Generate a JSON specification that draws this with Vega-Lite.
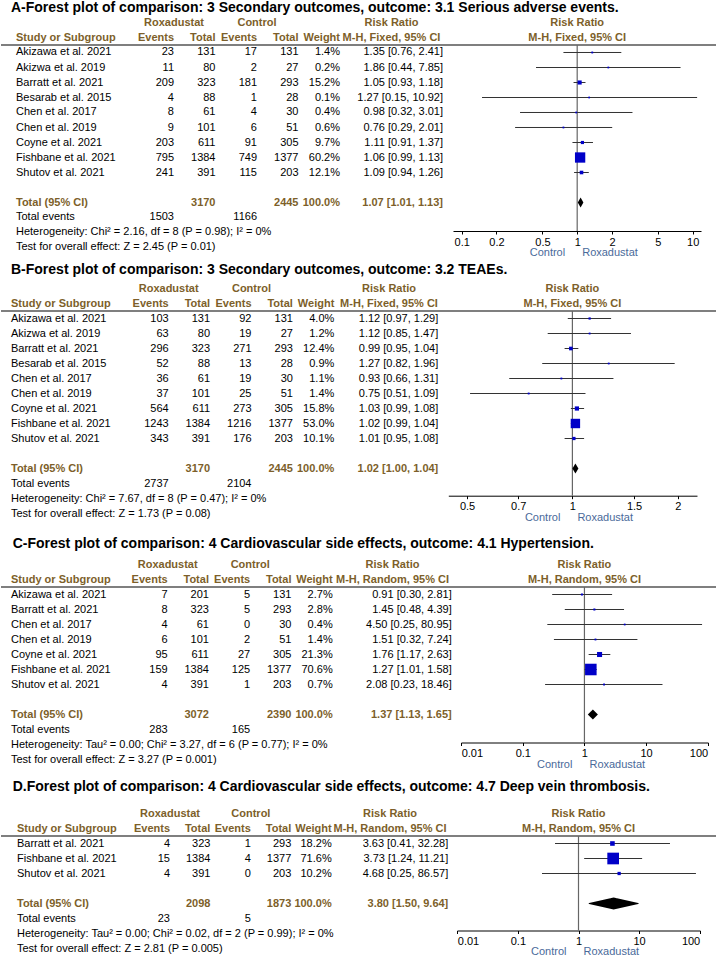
{
"$schema": "https://vega.github.io/schema/vega-lite/v6.json",
"padding": 0,
"autosize": {"type": "pad"},
"background": "white",
"columns": 5,
"align": "each",
"bounds": "flush",
"spacing": 0,
"config": {
  "view": {"stroke": null},
  "text": {"font": "Liberation Sans", "fontSize": 11, "color": "black"},
  "axisX": {"grid": false, "tickSize": 3, "labelFontSize": 11, "labelFont": "Liberation Sans", "labelColor": "black", "domainColor": "black", "tickColor": "black", "labelPadding": 2, "format": "~g", "labelOverlap": false, "title": null}
},
"datasets": {
"A": [
{"row":"title","kind":"title","label":"A-Forest plot of comparison: 3 Secondary outcomes, outcome: 3.1 Serious adverse events."},
{"row":"Akizawa et al. 2021","kind":"study","label":"Akizawa et al. 2021","e1":23,"t1":131,"e2":17,"t2":131,"w":0.014,"rr":1.35,"lo":0.76,"hi":2.41,"ci":"1.35 [0.76, 2.41]"},
{"row":"Akizwa et al. 2019","kind":"study","label":"Akizwa et al. 2019","e1":11,"t1":80,"e2":2,"t2":27,"w":0.002,"rr":1.86,"lo":0.44,"hi":7.85,"ci":"1.86 [0.44, 7.85]"},
{"row":"Barratt et al. 2021","kind":"study","label":"Barratt et al. 2021","e1":209,"t1":323,"e2":181,"t2":293,"w":0.152,"rr":1.05,"lo":0.93,"hi":1.18,"ci":"1.05 [0.93, 1.18]"},
{"row":"Besarab et al. 2015","kind":"study","label":"Besarab et al. 2015","e1":4,"t1":88,"e2":1,"t2":28,"w":0.001,"rr":1.27,"lo":0.15,"hi":10.92,"ci":"1.27 [0.15, 10.92]"},
{"row":"Chen et al. 2017","kind":"study","label":"Chen et al. 2017","e1":8,"t1":61,"e2":4,"t2":30,"w":0.004,"rr":0.98,"lo":0.32,"hi":3.01,"ci":"0.98 [0.32, 3.01]"},
{"row":"Chen et al. 2019","kind":"study","label":"Chen et al. 2019","e1":9,"t1":101,"e2":6,"t2":51,"w":0.006,"rr":0.76,"lo":0.29,"hi":2.01,"ci":"0.76 [0.29, 2.01]"},
{"row":"Coyne et al. 2021","kind":"study","label":"Coyne et al. 2021","e1":203,"t1":611,"e2":91,"t2":305,"w":0.097,"rr":1.11,"lo":0.91,"hi":1.37,"ci":"1.11 [0.91, 1.37]"},
{"row":"Fishbane et al. 2021","kind":"study","label":"Fishbane et al. 2021","e1":795,"t1":1384,"e2":749,"t2":1377,"w":0.602,"rr":1.06,"lo":0.99,"hi":1.13,"ci":"1.06 [0.99, 1.13]"},
{"row":"Shutov et al. 2021","kind":"study","label":"Shutov et al. 2021","e1":241,"t1":391,"e2":115,"t2":203,"w":0.121,"rr":1.09,"lo":0.94,"hi":1.26,"ci":"1.09 [0.94, 1.26]"},
{"row":"Total (95% CI)","kind":"total","label":"Total (95% CI)","t1":3170,"t2":2445,"w":1,"rr":1.07,"lo":1.01,"hi":1.13,"ci":"1.07 [1.01, 1.13]"},
{"row":"Total events","kind":"events","label":"Total events","e1":1503,"e2":1166},
{"row":"het","kind":"note","label":"Heterogeneity: Chi² = 2.16, df = 8 (P = 0.98); I² = 0%"},
{"row":"test","kind":"note","label":"Test for overall effect: Z = 2.45 (P = 0.01)"}
],
"B": [
{"row":"title","kind":"title","label":"B-Forest plot of comparison: 3 Secondary outcomes, outcome: 3.2 TEAEs."},
{"row":"Akizawa et al. 2021","kind":"study","label":"Akizawa et al. 2021","e1":103,"t1":131,"e2":92,"t2":131,"w":0.04,"rr":1.12,"lo":0.97,"hi":1.29,"ci":"1.12 [0.97, 1.29]"},
{"row":"Akizwa et al. 2019","kind":"study","label":"Akizwa et al. 2019","e1":63,"t1":80,"e2":19,"t2":27,"w":0.012,"rr":1.12,"lo":0.85,"hi":1.47,"ci":"1.12 [0.85, 1.47]"},
{"row":"Barratt et al. 2021","kind":"study","label":"Barratt et al. 2021","e1":296,"t1":323,"e2":271,"t2":293,"w":0.124,"rr":0.99,"lo":0.95,"hi":1.04,"ci":"0.99 [0.95, 1.04]"},
{"row":"Besarab et al. 2015","kind":"study","label":"Besarab et al. 2015","e1":52,"t1":88,"e2":13,"t2":28,"w":0.009,"rr":1.27,"lo":0.82,"hi":1.96,"ci":"1.27 [0.82, 1.96]"},
{"row":"Chen et al. 2017","kind":"study","label":"Chen et al. 2017","e1":36,"t1":61,"e2":19,"t2":30,"w":0.011,"rr":0.93,"lo":0.66,"hi":1.31,"ci":"0.93 [0.66, 1.31]"},
{"row":"Chen et al. 2019","kind":"study","label":"Chen et al. 2019","e1":37,"t1":101,"e2":25,"t2":51,"w":0.014,"rr":0.75,"lo":0.51,"hi":1.09,"ci":"0.75 [0.51, 1.09]"},
{"row":"Coyne et al. 2021","kind":"study","label":"Coyne et al. 2021","e1":564,"t1":611,"e2":273,"t2":305,"w":0.158,"rr":1.03,"lo":0.99,"hi":1.08,"ci":"1.03 [0.99, 1.08]"},
{"row":"Fishbane et al. 2021","kind":"study","label":"Fishbane et al. 2021","e1":1243,"t1":1384,"e2":1216,"t2":1377,"w":0.53,"rr":1.02,"lo":0.99,"hi":1.04,"ci":"1.02 [0.99, 1.04]"},
{"row":"Shutov et al. 2021","kind":"study","label":"Shutov et al. 2021","e1":343,"t1":391,"e2":176,"t2":203,"w":0.101,"rr":1.01,"lo":0.95,"hi":1.08,"ci":"1.01 [0.95, 1.08]"},
{"row":"Total (95% CI)","kind":"total","label":"Total (95% CI)","t1":3170,"t2":2445,"w":1,"rr":1.02,"lo":1.0,"hi":1.04,"ci":"1.02 [1.00, 1.04]"},
{"row":"Total events","kind":"events","label":"Total events","e1":2737,"e2":2104},
{"row":"het","kind":"note","label":"Heterogeneity: Chi² = 7.67, df = 8 (P = 0.47); I² = 0%"},
{"row":"test","kind":"note","label":"Test for overall effect: Z = 1.73 (P = 0.08)"}
],
"C": [
{"row":"title","kind":"title","label":"C-Forest plot of comparison: 4 Cardiovascular side effects, outcome: 4.1 Hypertension."},
{"row":"Akizawa et al. 2021","kind":"study","label":"Akizawa et al. 2021","e1":7,"t1":201,"e2":5,"t2":131,"w":0.027,"rr":0.91,"lo":0.30,"hi":2.81,"ci":"0.91 [0.30, 2.81]"},
{"row":"Barratt et al. 2021","kind":"study","label":"Barratt et al. 2021","e1":8,"t1":323,"e2":5,"t2":293,"w":0.028,"rr":1.45,"lo":0.48,"hi":4.39,"ci":"1.45 [0.48, 4.39]"},
{"row":"Chen et al. 2017","kind":"study","label":"Chen et al. 2017","e1":4,"t1":61,"e2":0,"t2":30,"w":0.004,"rr":4.50,"lo":0.25,"hi":80.95,"ci":"4.50 [0.25, 80.95]"},
{"row":"Chen et al. 2019","kind":"study","label":"Chen et al. 2019","e1":6,"t1":101,"e2":2,"t2":51,"w":0.014,"rr":1.51,"lo":0.32,"hi":7.24,"ci":"1.51 [0.32, 7.24]"},
{"row":"Coyne et al. 2021","kind":"study","label":"Coyne et al. 2021","e1":95,"t1":611,"e2":27,"t2":305,"w":0.213,"rr":1.76,"lo":1.17,"hi":2.63,"ci":"1.76 [1.17, 2.63]"},
{"row":"Fishbane et al. 2021","kind":"study","label":"Fishbane et al. 2021","e1":159,"t1":1384,"e2":125,"t2":1377,"w":0.706,"rr":1.27,"lo":1.01,"hi":1.58,"ci":"1.27 [1.01, 1.58]"},
{"row":"Shutov et al. 2021","kind":"study","label":"Shutov et al. 2021","e1":4,"t1":391,"e2":1,"t2":203,"w":0.007,"rr":2.08,"lo":0.23,"hi":18.46,"ci":"2.08 [0.23, 18.46]"},
{"row":"Total (95% CI)","kind":"total","label":"Total (95% CI)","t1":3072,"t2":2390,"w":1,"rr":1.37,"lo":1.13,"hi":1.65,"ci":"1.37 [1.13, 1.65]"},
{"row":"Total events","kind":"events","label":"Total events","e1":283,"e2":165},
{"row":"het","kind":"note","label":"Heterogeneity: Tau² = 0.00; Chi² = 3.27, df = 6 (P = 0.77); I² = 0%"},
{"row":"test","kind":"note","label":"Test for overall effect: Z = 3.27 (P = 0.001)"}
],
"D": [
{"row":"title","kind":"title","label":"D.Forest plot of comparison: 4 Cardiovascular side effects, outcome: 4.7 Deep vein thrombosis."},
{"row":"Barratt et al. 2021","kind":"study","label":"Barratt et al. 2021","e1":4,"t1":323,"e2":1,"t2":293,"w":0.182,"rr":3.63,"lo":0.41,"hi":32.28,"ci":"3.63 [0.41, 32.28]"},
{"row":"Fishbane et al. 2021","kind":"study","label":"Fishbane et al. 2021","e1":15,"t1":1384,"e2":4,"t2":1377,"w":0.716,"rr":3.73,"lo":1.24,"hi":11.21,"ci":"3.73 [1.24, 11.21]"},
{"row":"Shutov et al. 2021","kind":"study","label":"Shutov et al. 2021","e1":4,"t1":391,"e2":0,"t2":203,"w":0.102,"rr":4.68,"lo":0.25,"hi":86.57,"ci":"4.68 [0.25, 86.57]"},
{"row":"Total (95% CI)","kind":"total","label":"Total (95% CI)","t1":2098,"t2":1873,"w":1,"rr":3.80,"lo":1.50,"hi":9.64,"ci":"3.80 [1.50, 9.64]"},
{"row":"Total events","kind":"events","label":"Total events","e1":23,"e2":5},
{"row":"het","kind":"note","label":"Heterogeneity: Tau² = 0.00; Chi² = 0.02, df = 2 (P = 0.99); I² = 0%"},
{"row":"test","kind":"note","label":"Test for overall effect: Z = 2.81 (P = 0.005)"}
]
},
"concat": [
 {"width": 165, "height": 266, "data": {"name": "A"},
  "encoding": {"y": {"field": "row", "type": "nominal", "axis": null, "scale": {"type": "band", "domain": ["title","h1","h2","Akizawa et al. 2021","Akizwa et al. 2019","Barratt et al. 2021","Besarab et al. 2015","Chen et al. 2017","Chen et al. 2019","Coyne et al. 2021","Fishbane et al. 2021","Shutov et al. 2021","blank","Total (95% CI)","Total events","het","test"], "paddingInner": 0, "paddingOuter": 0.366667, "align": 0, "round": false}}},
  "layer": [
   {"transform": [{"filter": "datum.kind == 'study' || datum.kind == 'events' || datum.kind == 'note'"}], "mark": {"type": "text", "align": "left", "baseline": "middle"}, "encoding": {"x": {"datum": "c", "type": "nominal", "axis": null, "scale": {"type": "point", "domain": ["c"], "padding": 0, "align": 0.0909}}, "text": {"field": "label"}}},
   {"transform": [{"filter": "datum.kind == 'total'"}], "mark": {"type": "text", "align": "left", "baseline": "middle", "fontWeight": "bold", "color": "#7d5f2a"}, "encoding": {"x": {"datum": "c", "type": "nominal", "axis": null}, "text": {"field": "label"}}},
   {"transform": [{"filter": "datum.kind == 'title'"}], "mark": {"type": "text", "align": "left", "baseline": "middle", "fontWeight": "bold", "fontSize": 14, "dx": -5, "dy": 0.5}, "encoding": {"x": {"datum": "c", "type": "nominal", "axis": null}, "text": {"field": "label"}}},
   {"data": {"values": [{"t": "Study or Subgroup"}]}, "mark": {"type": "text", "align": "left", "baseline": "middle", "fontWeight": "bold", "color": "#7d5f2a"}, "encoding": {"x": {"datum": "c", "type": "nominal", "axis": null}, "y": {"datum": "h2", "type": "nominal"}, "text": {"field": "t"}}},
   {"data": {"values": [{}]}, "mark": {"type": "rule", "color": "#555", "strokeWidth": 1.5}, "encoding": {"y": {"datum": "Akizawa et al. 2021", "type": "nominal", "bandPosition": 0}}}
  ]},
 {"width": 180, "height": 266, "data": {"name": "A"},
  "encoding": {"y": {"field": "row", "type": "nominal", "axis": null, "scale": {"type": "band", "domain": ["title","h1","h2","Akizawa et al. 2021","Akizwa et al. 2019","Barratt et al. 2021","Besarab et al. 2015","Chen et al. 2017","Chen et al. 2019","Coyne et al. 2021","Fishbane et al. 2021","Shutov et al. 2021","blank","Total (95% CI)","Total events","het","test"], "paddingInner": 0, "paddingOuter": 0.366667, "align": 0, "round": false}}},
  "layer": [
   {"transform": [{"filter": "datum.kind == 'study' || datum.kind == 'events'"}, {"fold": ["e1","t1","e2","t2"], "as": ["col","val"]}, {"filter": "isValid(datum.val)"}], "mark": {"type": "text", "align": "right", "baseline": "middle"}, "encoding": {"x": {"field": "col", "type": "nominal", "axis": null, "scale": {"type": "point", "domain": ["e1","t1","e2","t2","w"], "padding": 0.16867, "align": 0.5714}}, "text": {"field": "val", "type": "nominal"}}},
   {"transform": [{"filter": "datum.kind == 'total'"}, {"fold": ["e1","t1","e2","t2"], "as": ["col","val"]}, {"filter": "isValid(datum.val)"}], "mark": {"type": "text", "align": "right", "baseline": "middle", "fontWeight": "bold", "color": "#7d5f2a"}, "encoding": {"x": {"field": "col", "type": "nominal", "axis": null}, "text": {"field": "val", "type": "nominal"}}},
   {"transform": [{"filter": "datum.kind == 'study'"}], "mark": {"type": "text", "align": "right", "baseline": "middle"}, "encoding": {"x": {"datum": "w", "type": "nominal", "axis": null}, "text": {"field": "w", "type": "quantitative", "format": ".1%"}}},
   {"transform": [{"filter": "datum.kind == 'total'"}], "mark": {"type": "text", "align": "right", "baseline": "middle", "fontWeight": "bold", "color": "#7d5f2a"}, "encoding": {"x": {"datum": "w", "type": "nominal", "axis": null}, "text": {"field": "w", "type": "quantitative", "format": ".1%"}}},
   {"data": {"values": [{"t": "Roxadustat", "c": "e1"}, {"t": "Control", "c": "e2"}]}, "mark": {"type": "text", "align": "center", "baseline": "middle", "fontWeight": "bold", "color": "#7d5f2a"}, "encoding": {"x": {"field": "c", "type": "nominal", "axis": null}, "y": {"datum": "h1", "type": "nominal"}, "text": {"field": "t"}}},
   {"data": {"values": [{"t": "Events", "c": "e1"}, {"t": "Total", "c": "t1"}, {"t": "Events", "c": "e2"}, {"t": "Total", "c": "t2"}, {"t": "Weight", "c": "w"}]}, "mark": {"type": "text", "align": "right", "baseline": "middle", "fontWeight": "bold", "color": "#7d5f2a"}, "encoding": {"x": {"field": "c", "type": "nominal", "axis": null}, "y": {"datum": "h2", "type": "nominal"}, "text": {"field": "t"}}},
   {"data": {"values": [{}]}, "mark": {"type": "rule", "color": "#555", "strokeWidth": 1.5}, "encoding": {"y": {"datum": "Akizawa et al. 2021", "type": "nominal", "bandPosition": 0}}}
  ]},
 {"width": 107, "height": 266, "data": {"name": "A"},
  "encoding": {"y": {"field": "row", "type": "nominal", "axis": null, "scale": {"type": "band", "domain": ["title","h1","h2","Akizawa et al. 2021","Akizwa et al. 2019","Barratt et al. 2021","Besarab et al. 2015","Chen et al. 2017","Chen et al. 2019","Coyne et al. 2021","Fishbane et al. 2021","Shutov et al. 2021","blank","Total (95% CI)","Total events","het","test"], "paddingInner": 0, "paddingOuter": 0.366667, "align": 0, "round": false}}},
  "layer": [
   {"transform": [{"filter": "datum.kind == 'study'"}], "mark": {"type": "text", "align": "right", "baseline": "middle"}, "encoding": {"x": {"datum": "r", "type": "nominal", "axis": null, "scale": {"type": "point", "domain": ["mid","r"], "padding": 0.53883, "align": 0.81982}}, "text": {"field": "ci"}}},
   {"transform": [{"filter": "datum.kind == 'total'"}], "mark": {"type": "text", "align": "right", "baseline": "middle", "fontWeight": "bold", "color": "#7d5f2a"}, "encoding": {"x": {"datum": "r", "type": "nominal", "axis": null}, "text": {"field": "ci"}}},
   {"data": {"values": [{"t": "Risk Ratio", "r": "h1"}, {"t": "M-H, Fixed, 95% CI", "r": "h2"}]}, "mark": {"type": "text", "align": "center", "baseline": "middle", "fontWeight": "bold", "color": "#7d5f2a"}, "encoding": {"x": {"datum": "mid", "type": "nominal", "axis": null}, "y": {"field": "r", "type": "nominal"}, "text": {"field": "t"}}},
   {"data": {"values": [{}]}, "mark": {"type": "rule", "color": "#555", "strokeWidth": 1.5}, "encoding": {"y": {"datum": "Akizawa et al. 2021", "type": "nominal", "bandPosition": 0}}}
  ]},
 {"width": 258, "height": 266, "data": {"name": "A"},
  "encoding": {"y": {"field": "row", "type": "nominal", "axis": null, "scale": {"type": "band", "domain": ["title","h1","h2","Akizawa et al. 2021","Akizwa et al. 2019","Barratt et al. 2021","Besarab et al. 2015","Chen et al. 2017","Chen et al. 2019","Coyne et al. 2021","Fishbane et al. 2021","Shutov et al. 2021","blank","Total (95% CI)","Total events","het","test"], "paddingInner": 0, "paddingOuter": 0.366667, "align": 0, "round": false}}},
  "layer": [
   {"data": {"values": [{}]}, "mark": {"type": "rule", "color": "#555", "strokeWidth": 1.5}, "encoding": {"y": {"datum": "Akizawa et al. 2021", "type": "nominal", "bandPosition": 0}}},
   {"data": {"values": [{}]}, "mark": {"type": "rule", "color": "#666", "strokeWidth": 1.2, "y2Offset": -35}, "encoding": {"x": {"datum": 1, "type": "quantitative", "scale": {"type": "log", "domain": [0.0841, 11.8], "nice": false, "rangeMin": 0, "rangeMax": 248}}, "y": {"datum": "Akizawa et al. 2021", "type": "nominal", "bandPosition": 0}, "y2": {"value": "height"}}},
   {"data": {"values": [{"t": "Risk Ratio", "r": "h1"}, {"t": "M-H, Fixed, 95% CI", "r": "h2"}]}, "mark": {"type": "text", "align": "center", "baseline": "middle", "fontWeight": "bold", "color": "#7d5f2a"}, "encoding": {"x": {"datum": 1, "type": "quantitative"}, "y": {"field": "r", "type": "nominal"}, "text": {"field": "t"}}},
   {"transform": [{"filter": "datum.kind == 'study'"}], "mark": {"type": "rule", "color": "#333", "strokeWidth": 1}, "encoding": {"x": {"field": "lo", "type": "quantitative", "title": null, "scale": {"type": "log", "domain": [0.0841, 11.8], "nice": false, "rangeMin": 0, "rangeMax": 248}, "axis": {"values": [0.1, 0.2, 0.5, 1, 2, 5, 10], "offset": -35}}, "x2": {"field": "hi"}, "y": {"field": "row", "type": "nominal"}}},
   {"transform": [{"filter": "datum.kind == 'study'"}], "mark": {"type": "point", "shape": "square", "filled": true, "color": "#0000c8", "opacity": 1}, "encoding": {"x": {"field": "rr", "type": "quantitative", "title": null}, "y": {"field": "row", "type": "nominal"}, "size": {"field": "w", "type": "quantitative", "legend": null, "scale": {"type": "pow", "exponent": 1.46, "domain": [0, 1], "range": [3, 220]}}}},
   {"transform": [{"filter": "datum.kind == 'total'"}], "mark": {"type": "point", "shape": "M-0.56,0L0,-1L0.56,0L0,1Z", "filled": true, "color": "black", "opacity": 1, "size": 100}, "encoding": {"x": {"field": "rr", "type": "quantitative", "title": null}, "y": {"field": "row", "type": "nominal"}}},
   {"data": {"values": [{}]}, "mark": {"type": "text", "align": "right", "baseline": "middle", "dx": -12, "dy": -13, "color": "#4a6a9a"}, "encoding": {"x": {"datum": 1, "type": "quantitative"}, "y": {"value": "height"}, "text": {"value": "Control"}}},
   {"data": {"values": [{}]}, "mark": {"type": "text", "align": "left", "baseline": "middle", "dx": 5, "dy": -13, "color": "#4a6a9a"}, "encoding": {"x": {"datum": 1, "type": "quantitative"}, "y": {"value": "height"}, "text": {"value": "Roxadustat"}}}
  ]},
 {"width": 6, "height": 266, "data": {"values": [{}]}, "mark": {"type": "rule", "color": "#555", "strokeWidth": 1.5}, "encoding": {"y": {"datum": "Akizawa et al. 2021", "type": "nominal", "bandPosition": 0, "axis": null, "scale": {"type": "band", "domain": ["title","h1","h2","Akizawa et al. 2021","Akizwa et al. 2019","Barratt et al. 2021","Besarab et al. 2015","Chen et al. 2017","Chen et al. 2019","Coyne et al. 2021","Fishbane et al. 2021","Shutov et al. 2021","blank","Total (95% CI)","Total events","het","test"], "paddingInner": 0, "paddingOuter": 0.366667, "align": 0, "round": false}}}},

 {"width": 165, "height": 275.2, "data": {"name": "B"},
  "encoding": {"y": {"field": "row", "type": "nominal", "axis": null, "scale": {"type": "band", "domain": ["title","h1","h2","Akizawa et al. 2021","Akizwa et al. 2019","Barratt et al. 2021","Besarab et al. 2015","Chen et al. 2017","Chen et al. 2019","Coyne et al. 2021","Fishbane et al. 2021","Shutov et al. 2021","blank","Total (95% CI)","Total events","het","test"], "paddingInner": 0, "paddingOuter": 0.673333, "align": 0, "round": false}}},
  "layer": [
   {"transform": [{"filter": "datum.kind == 'study' || datum.kind == 'events' || datum.kind == 'note'"}], "mark": {"type": "text", "align": "left", "baseline": "middle"}, "encoding": {"x": {"datum": "c", "type": "nominal", "axis": null, "scale": {"type": "point", "domain": ["c"], "padding": 0, "align": 0.0606}}, "text": {"field": "label"}}},
   {"transform": [{"filter": "datum.kind == 'total'"}], "mark": {"type": "text", "align": "left", "baseline": "middle", "fontWeight": "bold", "color": "#7d5f2a"}, "encoding": {"x": {"datum": "c", "type": "nominal", "axis": null}, "text": {"field": "label"}}},
   {"transform": [{"filter": "datum.kind == 'title'"}], "mark": {"type": "text", "align": "left", "baseline": "middle", "fontWeight": "bold", "fontSize": 14, "dx": 0, "dy": -3.5}, "encoding": {"x": {"datum": "c", "type": "nominal", "axis": null}, "text": {"field": "label"}}},
   {"data": {"values": [{"t": "Study or Subgroup"}]}, "mark": {"type": "text", "align": "left", "baseline": "middle", "fontWeight": "bold", "color": "#7d5f2a"}, "encoding": {"x": {"datum": "c", "type": "nominal", "axis": null}, "y": {"datum": "h2", "type": "nominal"}, "text": {"field": "t"}}},
   {"data": {"values": [{}]}, "mark": {"type": "rule", "color": "#555", "strokeWidth": 1.5}, "encoding": {"y": {"datum": "Akizawa et al. 2021", "type": "nominal", "bandPosition": 0}}}
  ]},
 {"width": 180, "height": 275.2, "data": {"name": "B"},
  "encoding": {"y": {"field": "row", "type": "nominal", "axis": null, "scale": {"type": "band", "domain": ["title","h1","h2","Akizawa et al. 2021","Akizwa et al. 2019","Barratt et al. 2021","Besarab et al. 2015","Chen et al. 2017","Chen et al. 2019","Coyne et al. 2021","Fishbane et al. 2021","Shutov et al. 2021","blank","Total (95% CI)","Total events","het","test"], "paddingInner": 0, "paddingOuter": 0.673333, "align": 0, "round": false}}},
  "layer": [
   {"transform": [{"filter": "datum.kind == 'study' || datum.kind == 'events'"}, {"fold": ["e1","t1","e2","t2"], "as": ["col","val"]}, {"filter": "isValid(datum.val)"}], "mark": {"type": "text", "align": "right", "baseline": "middle"}, "encoding": {"x": {"field": "col", "type": "nominal", "axis": null, "scale": {"type": "point", "domain": ["e1","t1","e2","t2","w"], "padding": 0.1739, "align": 0.1875}}, "text": {"field": "val", "type": "nominal"}}},
   {"transform": [{"filter": "datum.kind == 'total'"}, {"fold": ["e1","t1","e2","t2"], "as": ["col","val"]}, {"filter": "isValid(datum.val)"}], "mark": {"type": "text", "align": "right", "baseline": "middle", "fontWeight": "bold", "color": "#7d5f2a"}, "encoding": {"x": {"field": "col", "type": "nominal", "axis": null}, "text": {"field": "val", "type": "nominal"}}},
   {"transform": [{"filter": "datum.kind == 'study'"}], "mark": {"type": "text", "align": "right", "baseline": "middle"}, "encoding": {"x": {"datum": "w", "type": "nominal", "axis": null}, "text": {"field": "w", "type": "quantitative", "format": ".1%"}}},
   {"transform": [{"filter": "datum.kind == 'total'"}], "mark": {"type": "text", "align": "right", "baseline": "middle", "fontWeight": "bold", "color": "#7d5f2a"}, "encoding": {"x": {"datum": "w", "type": "nominal", "axis": null}, "text": {"field": "w", "type": "quantitative", "format": ".1%"}}},
   {"data": {"values": [{"t": "Roxadustat", "c": "e1"}, {"t": "Control", "c": "e2"}]}, "mark": {"type": "text", "align": "center", "baseline": "middle", "fontWeight": "bold", "color": "#7d5f2a"}, "encoding": {"x": {"field": "c", "type": "nominal", "axis": null}, "y": {"datum": "h1", "type": "nominal"}, "text": {"field": "t"}}},
   {"data": {"values": [{"t": "Events", "c": "e1"}, {"t": "Total", "c": "t1"}, {"t": "Events", "c": "e2"}, {"t": "Total", "c": "t2"}, {"t": "Weight", "c": "w"}]}, "mark": {"type": "text", "align": "right", "baseline": "middle", "fontWeight": "bold", "color": "#7d5f2a"}, "encoding": {"x": {"field": "c", "type": "nominal", "axis": null}, "y": {"datum": "h2", "type": "nominal"}, "text": {"field": "t"}}},
   {"data": {"values": [{}]}, "mark": {"type": "rule", "color": "#555", "strokeWidth": 1.5}, "encoding": {"y": {"datum": "Akizawa et al. 2021", "type": "nominal", "bandPosition": 0}}}
  ]},
 {"width": 107, "height": 275.2, "data": {"name": "B"},
  "encoding": {"y": {"field": "row", "type": "nominal", "axis": null, "scale": {"type": "band", "domain": ["title","h1","h2","Akizawa et al. 2021","Akizwa et al. 2019","Barratt et al. 2021","Besarab et al. 2015","Chen et al. 2017","Chen et al. 2019","Coyne et al. 2021","Fishbane et al. 2021","Shutov et al. 2021","blank","Total (95% CI)","Total events","het","test"], "paddingInner": 0, "paddingOuter": 0.673333, "align": 0, "round": false}}},
  "layer": [
   {"transform": [{"filter": "datum.kind == 'study'"}], "mark": {"type": "text", "align": "right", "baseline": "middle"}, "encoding": {"x": {"datum": "r", "type": "nominal", "axis": null, "scale": {"type": "point", "domain": ["mid","r"], "padding": 0.58519, "align": 0.74523}}, "text": {"field": "ci"}}},
   {"transform": [{"filter": "datum.kind == 'total'"}], "mark": {"type": "text", "align": "right", "baseline": "middle", "fontWeight": "bold", "color": "#7d5f2a"}, "encoding": {"x": {"datum": "r", "type": "nominal", "axis": null}, "text": {"field": "ci"}}},
   {"data": {"values": [{"t": "Risk Ratio", "r": "h1"}, {"t": "M-H, Fixed, 95% CI", "r": "h2"}]}, "mark": {"type": "text", "align": "center", "baseline": "middle", "fontWeight": "bold", "color": "#7d5f2a"}, "encoding": {"x": {"datum": "mid", "type": "nominal", "axis": null}, "y": {"field": "r", "type": "nominal"}, "text": {"field": "t"}}},
   {"data": {"values": [{}]}, "mark": {"type": "rule", "color": "#555", "strokeWidth": 1.5}, "encoding": {"y": {"datum": "Akizawa et al. 2021", "type": "nominal", "bandPosition": 0}}}
  ]},
 {"width": 258, "height": 275.2, "data": {"name": "B"},
  "encoding": {"y": {"field": "row", "type": "nominal", "axis": null, "scale": {"type": "band", "domain": ["title","h1","h2","Akizawa et al. 2021","Akizwa et al. 2019","Barratt et al. 2021","Besarab et al. 2015","Chen et al. 2017","Chen et al. 2019","Coyne et al. 2021","Fishbane et al. 2021","Shutov et al. 2021","blank","Total (95% CI)","Total events","het","test"], "paddingInner": 0, "paddingOuter": 0.673333, "align": 0, "round": false}}},
  "layer": [
   {"data": {"values": [{}]}, "mark": {"type": "rule", "color": "#555", "strokeWidth": 1.5}, "encoding": {"y": {"datum": "Akizawa et al. 2021", "type": "nominal", "bandPosition": 0}}},
   {"data": {"values": [{}]}, "mark": {"type": "rule", "color": "#666", "strokeWidth": 1.2, "y2Offset": -45.5}, "encoding": {"x": {"datum": 1, "type": "quantitative", "scale": {"type": "log", "domain": [0.442, 2.27], "nice": false, "rangeMin": -4.7, "rangeMax": 244}}, "y": {"datum": "Akizawa et al. 2021", "type": "nominal", "bandPosition": 0}, "y2": {"value": "height"}}},
   {"data": {"values": [{"t": "Risk Ratio", "r": "h1"}, {"t": "M-H, Fixed, 95% CI", "r": "h2"}]}, "mark": {"type": "text", "align": "center", "baseline": "middle", "fontWeight": "bold", "color": "#7d5f2a"}, "encoding": {"x": {"datum": 1, "type": "quantitative"}, "y": {"field": "r", "type": "nominal"}, "text": {"field": "t"}}},
   {"transform": [{"filter": "datum.kind == 'study'"}], "mark": {"type": "rule", "color": "#333", "strokeWidth": 1}, "encoding": {"x": {"field": "lo", "type": "quantitative", "title": null, "scale": {"type": "log", "domain": [0.442, 2.27], "nice": false, "rangeMin": -4.7, "rangeMax": 244}, "axis": {"values": [0.5, 0.7, 1, 1.5, 2], "offset": -45.5}}, "x2": {"field": "hi"}, "y": {"field": "row", "type": "nominal"}}},
   {"transform": [{"filter": "datum.kind == 'study'"}], "mark": {"type": "point", "shape": "square", "filled": true, "color": "#0000c8", "opacity": 1}, "encoding": {"x": {"field": "rr", "type": "quantitative", "title": null}, "y": {"field": "row", "type": "nominal"}, "size": {"field": "w", "type": "quantitative", "legend": null, "scale": {"type": "pow", "exponent": 1.46, "domain": [0, 1], "range": [3, 220]}}}},
   {"transform": [{"filter": "datum.kind == 'total'"}], "mark": {"type": "point", "shape": "M-0.6,0L0,-1L0.6,0L0,1Z", "filled": true, "color": "black", "opacity": 1, "size": 100}, "encoding": {"x": {"field": "rr", "type": "quantitative", "title": null}, "y": {"field": "row", "type": "nominal"}}},
   {"data": {"values": [{}]}, "mark": {"type": "text", "align": "right", "baseline": "middle", "dx": -12, "dy": -23.5, "color": "#4a6a9a"}, "encoding": {"x": {"datum": 1, "type": "quantitative"}, "y": {"value": "height"}, "text": {"value": "Control"}}},
   {"data": {"values": [{}]}, "mark": {"type": "text", "align": "left", "baseline": "middle", "dx": 5, "dy": -23.5, "color": "#4a6a9a"}, "encoding": {"x": {"datum": 1, "type": "quantitative"}, "y": {"value": "height"}, "text": {"value": "Roxadustat"}}}
  ]},
 {"width": 6, "height": 275.2, "data": {"values": [{}]}, "mark": {"type": "rule", "color": "#555", "strokeWidth": 1.5}, "encoding": {"y": {"datum": "Akizawa et al. 2021", "type": "nominal", "bandPosition": 0, "axis": null, "scale": {"type": "band", "domain": ["title","h1","h2","Akizawa et al. 2021","Akizwa et al. 2019","Barratt et al. 2021","Besarab et al. 2015","Chen et al. 2017","Chen et al. 2019","Coyne et al. 2021","Fishbane et al. 2021","Shutov et al. 2021","blank","Total (95% CI)","Total events","het","test"], "paddingInner": 0, "paddingOuter": 0.673333, "align": 0, "round": false}}}},

 {"width": 165, "height": 233.3, "data": {"name": "C"},
  "encoding": {"y": {"field": "row", "type": "nominal", "axis": null, "scale": {"type": "band", "domain": ["title","h1","h2","Akizawa et al. 2021","Barratt et al. 2021","Chen et al. 2017","Chen et al. 2019","Coyne et al. 2021","Fishbane et al. 2021","Shutov et al. 2021","blank","Total (95% CI)","Total events","het","test"], "paddingInner": 0, "paddingOuter": 0.276667, "align": 0, "round": false}}},
  "layer": [
   {"transform": [{"filter": "datum.kind == 'study' || datum.kind == 'events' || datum.kind == 'note'"}], "mark": {"type": "text", "align": "left", "baseline": "middle"}, "encoding": {"x": {"datum": "c", "type": "nominal", "axis": null, "scale": {"type": "point", "domain": ["c"], "padding": 0, "align": 0.0606}}, "text": {"field": "label"}}},
   {"transform": [{"filter": "datum.kind == 'total'"}], "mark": {"type": "text", "align": "left", "baseline": "middle", "fontWeight": "bold", "color": "#7d5f2a"}, "encoding": {"x": {"datum": "c", "type": "nominal", "axis": null}, "text": {"field": "label"}}},
   {"transform": [{"filter": "datum.kind == 'title'"}], "mark": {"type": "text", "align": "left", "baseline": "middle", "fontWeight": "bold", "fontSize": 14, "dx": 1.7, "dy": -5.4}, "encoding": {"x": {"datum": "c", "type": "nominal", "axis": null}, "text": {"field": "label"}}},
   {"data": {"values": [{"t": "Study or Subgroup"}]}, "mark": {"type": "text", "align": "left", "baseline": "middle", "fontWeight": "bold", "color": "#7d5f2a"}, "encoding": {"x": {"datum": "c", "type": "nominal", "axis": null}, "y": {"datum": "h2", "type": "nominal"}, "text": {"field": "t"}}},
   {"data": {"values": [{}]}, "mark": {"type": "rule", "color": "#555", "strokeWidth": 1.5}, "encoding": {"y": {"datum": "Akizawa et al. 2021", "type": "nominal", "bandPosition": 0}}}
  ]},
 {"width": 180, "height": 233.3, "data": {"name": "C"},
  "encoding": {"y": {"field": "row", "type": "nominal", "axis": null, "scale": {"type": "band", "domain": ["title","h1","h2","Akizawa et al. 2021","Barratt et al. 2021","Chen et al. 2017","Chen et al. 2019","Coyne et al. 2021","Fishbane et al. 2021","Shutov et al. 2021","blank","Total (95% CI)","Total events","het","test"], "paddingInner": 0, "paddingOuter": 0.276667, "align": 0, "round": false}}},
  "layer": [
   {"transform": [{"filter": "datum.kind == 'study' || datum.kind == 'events'"}, {"fold": ["e1","t1","e2","t2"], "as": ["col","val"]}, {"filter": "isValid(datum.val)"}], "mark": {"type": "text", "align": "right", "baseline": "middle"}, "encoding": {"x": {"field": "col", "type": "nominal", "axis": null, "scale": {"type": "point", "domain": ["e1","t1","e2","t2","w"], "padding": 0.1818, "align": 0.1133}}, "text": {"field": "val", "type": "nominal"}}},
   {"transform": [{"filter": "datum.kind == 'total'"}, {"fold": ["e1","t1","e2","t2"], "as": ["col","val"]}, {"filter": "isValid(datum.val)"}], "mark": {"type": "text", "align": "right", "baseline": "middle", "fontWeight": "bold", "color": "#7d5f2a"}, "encoding": {"x": {"field": "col", "type": "nominal", "axis": null}, "text": {"field": "val", "type": "nominal"}}},
   {"transform": [{"filter": "datum.kind == 'study'"}], "mark": {"type": "text", "align": "right", "baseline": "middle"}, "encoding": {"x": {"datum": "w", "type": "nominal", "axis": null}, "text": {"field": "w", "type": "quantitative", "format": ".1%"}}},
   {"transform": [{"filter": "datum.kind == 'total'"}], "mark": {"type": "text", "align": "right", "baseline": "middle", "fontWeight": "bold", "color": "#7d5f2a"}, "encoding": {"x": {"datum": "w", "type": "nominal", "axis": null}, "text": {"field": "w", "type": "quantitative", "format": ".1%"}}},
   {"data": {"values": [{"t": "Roxadustat", "c": "e1"}, {"t": "Control", "c": "e2"}]}, "mark": {"type": "text", "align": "center", "baseline": "middle", "fontWeight": "bold", "color": "#7d5f2a"}, "encoding": {"x": {"field": "c", "type": "nominal", "axis": null}, "y": {"datum": "h1", "type": "nominal"}, "text": {"field": "t"}}},
   {"data": {"values": [{"t": "Events", "c": "e1"}, {"t": "Total", "c": "t1"}, {"t": "Events", "c": "e2"}, {"t": "Total", "c": "t2"}, {"t": "Weight", "c": "w"}]}, "mark": {"type": "text", "align": "right", "baseline": "middle", "fontWeight": "bold", "color": "#7d5f2a"}, "encoding": {"x": {"field": "c", "type": "nominal", "axis": null}, "y": {"datum": "h2", "type": "nominal"}, "text": {"field": "t"}}},
   {"data": {"values": [{}]}, "mark": {"type": "rule", "color": "#555", "strokeWidth": 1.5}, "encoding": {"y": {"datum": "Akizawa et al. 2021", "type": "nominal", "bandPosition": 0}}}
  ]},
 {"width": 107, "height": 233.3, "data": {"name": "C"},
  "encoding": {"y": {"field": "row", "type": "nominal", "axis": null, "scale": {"type": "band", "domain": ["title","h1","h2","Akizawa et al. 2021","Barratt et al. 2021","Chen et al. 2017","Chen et al. 2019","Coyne et al. 2021","Fishbane et al. 2021","Shutov et al. 2021","blank","Total (95% CI)","Total events","het","test"], "paddingInner": 0, "paddingOuter": 0.276667, "align": 0, "round": false}}},
  "layer": [
   {"transform": [{"filter": "datum.kind == 'study'"}], "mark": {"type": "text", "align": "right", "baseline": "middle"}, "encoding": {"x": {"datum": "r", "type": "nominal", "axis": null, "scale": {"type": "point", "domain": ["mid","r"], "padding": 0.40372, "align": 0.9728}}, "text": {"field": "ci"}}},
   {"transform": [{"filter": "datum.kind == 'total'"}], "mark": {"type": "text", "align": "right", "baseline": "middle", "fontWeight": "bold", "color": "#7d5f2a"}, "encoding": {"x": {"datum": "r", "type": "nominal", "axis": null}, "text": {"field": "ci"}}},
   {"data": {"values": [{"t": "Risk Ratio", "r": "h1"}, {"t": "M-H, Random, 95% CI", "r": "h2"}]}, "mark": {"type": "text", "align": "center", "baseline": "middle", "fontWeight": "bold", "color": "#7d5f2a"}, "encoding": {"x": {"datum": "mid", "type": "nominal", "axis": null}, "y": {"field": "r", "type": "nominal"}, "text": {"field": "t"}}},
   {"data": {"values": [{}]}, "mark": {"type": "rule", "color": "#555", "strokeWidth": 1.5}, "encoding": {"y": {"datum": "Akizawa et al. 2021", "type": "nominal", "bandPosition": 0}}}
  ]},
 {"width": 258, "height": 233.3, "data": {"name": "C"},
  "encoding": {"y": {"field": "row", "type": "nominal", "axis": null, "scale": {"type": "band", "domain": ["title","h1","h2","Akizawa et al. 2021","Barratt et al. 2021","Chen et al. 2017","Chen et al. 2019","Coyne et al. 2021","Fishbane et al. 2021","Shutov et al. 2021","blank","Total (95% CI)","Total events","het","test"], "paddingInner": 0, "paddingOuter": 0.276667, "align": 0, "round": false}}},
  "layer": [
   {"data": {"values": [{}]}, "mark": {"type": "rule", "color": "#555", "strokeWidth": 1.5}, "encoding": {"y": {"datum": "Akizawa et al. 2021", "type": "nominal", "bandPosition": 0}}},
   {"data": {"values": [{}]}, "mark": {"type": "rule", "color": "#666", "strokeWidth": 1.2, "y2Offset": -32.8}, "encoding": {"x": {"datum": 1, "type": "quantitative", "scale": {"type": "log", "domain": [0.00995, 101], "nice": false, "rangeMin": 8, "rangeMax": 255}}, "y": {"datum": "Akizawa et al. 2021", "type": "nominal", "bandPosition": 0}, "y2": {"value": "height"}}},
   {"data": {"values": [{"t": "Risk Ratio", "r": "h1"}, {"t": "M-H, Random, 95% CI", "r": "h2"}]}, "mark": {"type": "text", "align": "center", "baseline": "middle", "fontWeight": "bold", "color": "#7d5f2a"}, "encoding": {"x": {"datum": 1, "type": "quantitative"}, "y": {"field": "r", "type": "nominal"}, "text": {"field": "t"}}},
   {"transform": [{"filter": "datum.kind == 'study'"}], "mark": {"type": "rule", "color": "#333", "strokeWidth": 1}, "encoding": {"x": {"field": "lo", "type": "quantitative", "title": null, "scale": {"type": "log", "domain": [0.00995, 101], "nice": false, "rangeMin": 8, "rangeMax": 255}, "axis": {"values": [0.01, 0.1, 1, 10, 100], "offset": -32.8}}, "x2": {"field": "hi"}, "y": {"field": "row", "type": "nominal"}}},
   {"transform": [{"filter": "datum.kind == 'study'"}], "mark": {"type": "point", "shape": "square", "filled": true, "color": "#0000c8", "opacity": 1}, "encoding": {"x": {"field": "rr", "type": "quantitative", "title": null}, "y": {"field": "row", "type": "nominal"}, "size": {"field": "w", "type": "quantitative", "legend": null, "scale": {"type": "pow", "exponent": 1.46, "domain": [0, 1], "range": [3, 220]}}}},
   {"transform": [{"filter": "datum.kind == 'total'"}], "mark": {"type": "point", "shape": "M-1,0L0,-1L1,0L0,1Z", "filled": true, "color": "black", "opacity": 1, "size": 102}, "encoding": {"x": {"field": "rr", "type": "quantitative", "title": null}, "y": {"field": "row", "type": "nominal"}}},
   {"data": {"values": [{}]}, "mark": {"type": "text", "align": "right", "baseline": "middle", "dx": -12, "dy": -10.8, "color": "#4a6a9a"}, "encoding": {"x": {"datum": 1, "type": "quantitative"}, "y": {"value": "height"}, "text": {"value": "Control"}}},
   {"data": {"values": [{}]}, "mark": {"type": "text", "align": "left", "baseline": "middle", "dx": 5, "dy": -10.8, "color": "#4a6a9a"}, "encoding": {"x": {"datum": 1, "type": "quantitative"}, "y": {"value": "height"}, "text": {"value": "Roxadustat"}}}
  ]},
 {"width": 6, "height": 233.3, "data": {"values": [{}]}, "mark": {"type": "rule", "color": "#555", "strokeWidth": 1.5}, "encoding": {"y": {"datum": "Akizawa et al. 2021", "type": "nominal", "bandPosition": 0, "axis": null, "scale": {"type": "band", "domain": ["title","h1","h2","Akizawa et al. 2021","Barratt et al. 2021","Chen et al. 2017","Chen et al. 2019","Coyne et al. 2021","Fishbane et al. 2021","Shutov et al. 2021","blank","Total (95% CI)","Total events","het","test"], "paddingInner": 0, "paddingOuter": 0.276667, "align": 0, "round": false}}}},

 {"width": 165, "height": 184.5, "data": {"name": "D"},
  "encoding": {"y": {"field": "row", "type": "nominal", "axis": null, "scale": {"type": "band", "domain": ["title","gap","h1","h2","Barratt et al. 2021","Fishbane et al. 2021","Shutov et al. 2021","blank","Total (95% CI)","Total events","het","test"], "paddingInner": 0, "paddingOuter": 0.15, "align": 0, "round": false}}},
  "layer": [
   {"transform": [{"filter": "datum.kind == 'study' || datum.kind == 'events' || datum.kind == 'note'"}], "mark": {"type": "text", "align": "left", "baseline": "middle"}, "encoding": {"x": {"datum": "c", "type": "nominal", "axis": null, "scale": {"type": "point", "domain": ["c"], "padding": 0, "align": 0.09697}}, "text": {"field": "label"}}},
   {"transform": [{"filter": "datum.kind == 'total'"}], "mark": {"type": "text", "align": "left", "baseline": "middle", "fontWeight": "bold", "color": "#7d5f2a"}, "encoding": {"x": {"datum": "c", "type": "nominal", "axis": null}, "text": {"field": "label"}}},
   {"transform": [{"filter": "datum.kind == 'title'"}], "mark": {"type": "text", "align": "left", "baseline": "middle", "fontWeight": "bold", "fontSize": 14, "dx": -4.3, "dy": 3.7}, "encoding": {"x": {"datum": "c", "type": "nominal", "axis": null}, "text": {"field": "label"}}},
   {"data": {"values": [{"t": "Study or Subgroup"}]}, "mark": {"type": "text", "align": "left", "baseline": "middle", "fontWeight": "bold", "color": "#7d5f2a"}, "encoding": {"x": {"datum": "c", "type": "nominal", "axis": null}, "y": {"datum": "h2", "type": "nominal"}, "text": {"field": "t"}}},
   {"data": {"values": [{}]}, "mark": {"type": "rule", "color": "#555", "strokeWidth": 1.5}, "encoding": {"y": {"datum": "Barratt et al. 2021", "type": "nominal", "bandPosition": 0}}}
  ]},
 {"width": 180, "height": 184.5, "data": {"name": "D"},
  "encoding": {"y": {"field": "row", "type": "nominal", "axis": null, "scale": {"type": "band", "domain": ["title","gap","h1","h2","Barratt et al. 2021","Fishbane et al. 2021","Shutov et al. 2021","blank","Total (95% CI)","Total events","het","test"], "paddingInner": 0, "paddingOuter": 0.15, "align": 0, "round": false}}},
  "layer": [
   {"transform": [{"filter": "datum.kind == 'study' || datum.kind == 'events'"}, {"fold": ["e1","t1","e2","t2"], "as": ["col","val"]}, {"filter": "isValid(datum.val)"}], "mark": {"type": "text", "align": "right", "baseline": "middle"}, "encoding": {"x": {"field": "col", "type": "nominal", "axis": null, "scale": {"type": "point", "domain": ["e1","t1","e2","t2","w"], "padding": 0.22635, "align": 0.2186}}, "text": {"field": "val", "type": "nominal"}}},
   {"transform": [{"filter": "datum.kind == 'total'"}, {"fold": ["e1","t1","e2","t2"], "as": ["col","val"]}, {"filter": "isValid(datum.val)"}], "mark": {"type": "text", "align": "right", "baseline": "middle", "fontWeight": "bold", "color": "#7d5f2a"}, "encoding": {"x": {"field": "col", "type": "nominal", "axis": null}, "text": {"field": "val", "type": "nominal"}}},
   {"transform": [{"filter": "datum.kind == 'study'"}], "mark": {"type": "text", "align": "right", "baseline": "middle"}, "encoding": {"x": {"datum": "w", "type": "nominal", "axis": null}, "text": {"field": "w", "type": "quantitative", "format": ".1%"}}},
   {"transform": [{"filter": "datum.kind == 'total'"}], "mark": {"type": "text", "align": "right", "baseline": "middle", "fontWeight": "bold", "color": "#7d5f2a"}, "encoding": {"x": {"datum": "w", "type": "nominal", "axis": null}, "text": {"field": "w", "type": "quantitative", "format": ".1%"}}},
   {"data": {"values": [{"t": "Roxadustat", "c": "e1"}, {"t": "Control", "c": "e2"}]}, "mark": {"type": "text", "align": "center", "baseline": "middle", "fontWeight": "bold", "color": "#7d5f2a"}, "encoding": {"x": {"field": "c", "type": "nominal", "axis": null}, "y": {"datum": "h1", "type": "nominal"}, "text": {"field": "t"}}},
   {"data": {"values": [{"t": "Events", "c": "e1"}, {"t": "Total", "c": "t1"}, {"t": "Events", "c": "e2"}, {"t": "Total", "c": "t2"}, {"t": "Weight", "c": "w"}]}, "mark": {"type": "text", "align": "right", "baseline": "middle", "fontWeight": "bold", "color": "#7d5f2a"}, "encoding": {"x": {"field": "c", "type": "nominal", "axis": null}, "y": {"datum": "h2", "type": "nominal"}, "text": {"field": "t"}}},
   {"data": {"values": [{}]}, "mark": {"type": "rule", "color": "#555", "strokeWidth": 1.5}, "encoding": {"y": {"datum": "Barratt et al. 2021", "type": "nominal", "bandPosition": 0}}}
  ]},
 {"width": 107, "height": 184.5, "data": {"name": "D"},
  "encoding": {"y": {"field": "row", "type": "nominal", "axis": null, "scale": {"type": "band", "domain": ["title","gap","h1","h2","Barratt et al. 2021","Fishbane et al. 2021","Shutov et al. 2021","blank","Total (95% CI)","Total events","het","test"], "paddingInner": 0, "paddingOuter": 0.15, "align": 0, "round": false}}},
  "layer": [
   {"transform": [{"filter": "datum.kind == 'study'"}], "mark": {"type": "text", "align": "right", "baseline": "middle"}, "encoding": {"x": {"datum": "r", "type": "nominal", "axis": null, "scale": {"type": "point", "domain": ["mid","r"], "padding": 0.41767, "align": 0.90349}}, "text": {"field": "ci"}}},
   {"transform": [{"filter": "datum.kind == 'total'"}], "mark": {"type": "text", "align": "right", "baseline": "middle", "fontWeight": "bold", "color": "#7d5f2a"}, "encoding": {"x": {"datum": "r", "type": "nominal", "axis": null}, "text": {"field": "ci"}}},
   {"data": {"values": [{"t": "Risk Ratio", "r": "h1"}, {"t": "M-H, Random, 95% CI", "r": "h2"}]}, "mark": {"type": "text", "align": "center", "baseline": "middle", "fontWeight": "bold", "color": "#7d5f2a"}, "encoding": {"x": {"datum": "mid", "type": "nominal", "axis": null}, "y": {"field": "r", "type": "nominal"}, "text": {"field": "t"}}},
   {"data": {"values": [{}]}, "mark": {"type": "rule", "color": "#555", "strokeWidth": 1.5}, "encoding": {"y": {"datum": "Barratt et al. 2021", "type": "nominal", "bandPosition": 0}}}
  ]},
 {"width": 258, "height": 184.5, "data": {"name": "D"},
  "encoding": {"y": {"field": "row", "type": "nominal", "axis": null, "scale": {"type": "band", "domain": ["title","gap","h1","h2","Barratt et al. 2021","Fishbane et al. 2021","Shutov et al. 2021","blank","Total (95% CI)","Total events","het","test"], "paddingInner": 0, "paddingOuter": 0.15, "align": 0, "round": false}}},
  "layer": [
   {"data": {"values": [{}]}, "mark": {"type": "rule", "color": "#555", "strokeWidth": 1.5}, "encoding": {"y": {"datum": "Barratt et al. 2021", "type": "nominal", "bandPosition": 0}}},
   {"data": {"values": [{}]}, "mark": {"type": "rule", "color": "#666", "strokeWidth": 1.2, "y2Offset": -30}, "encoding": {"x": {"datum": 1, "type": "quantitative", "scale": {"type": "log", "domain": [0.0099, 101], "nice": false, "rangeMin": 4, "rangeMax": 247}}, "y": {"datum": "Barratt et al. 2021", "type": "nominal", "bandPosition": 0}, "y2": {"value": "height"}}},
   {"data": {"values": [{"t": "Risk Ratio", "r": "h1"}, {"t": "M-H, Random, 95% CI", "r": "h2"}]}, "mark": {"type": "text", "align": "center", "baseline": "middle", "fontWeight": "bold", "color": "#7d5f2a"}, "encoding": {"x": {"datum": 1, "type": "quantitative"}, "y": {"field": "r", "type": "nominal"}, "text": {"field": "t"}}},
   {"transform": [{"filter": "datum.kind == 'study'"}], "mark": {"type": "rule", "color": "#333", "strokeWidth": 1}, "encoding": {"x": {"field": "lo", "type": "quantitative", "title": null, "scale": {"type": "log", "domain": [0.0099, 101], "nice": false, "rangeMin": 4, "rangeMax": 247}, "axis": {"values": [0.01, 0.1, 1, 10, 100], "offset": -30}}, "x2": {"field": "hi"}, "y": {"field": "row", "type": "nominal"}}},
   {"transform": [{"filter": "datum.kind == 'study'"}], "mark": {"type": "point", "shape": "square", "filled": true, "color": "#0000c8", "opacity": 1}, "encoding": {"x": {"field": "rr", "type": "quantitative", "title": null}, "y": {"field": "row", "type": "nominal"}, "size": {"field": "w", "type": "quantitative", "legend": null, "scale": {"type": "pow", "exponent": 1.46, "domain": [0, 1], "range": [3, 220]}}}},
   {"transform": [{"filter": "datum.kind == 'total'"}, {"fold": ["lo","rr","hi"], "as": ["k","v"]}], "mark": {"type": "trail", "color": "black"}, "encoding": {"x": {"field": "v", "type": "quantitative", "title": null}, "y": {"field": "row", "type": "nominal"}, "order": {"field": "v", "type": "quantitative"}, "size": {"condition": {"test": "datum.k == 'rr'", "value": 12}, "value": 0}}},
   {"data": {"values": [{}]}, "mark": {"type": "text", "align": "right", "baseline": "middle", "dx": -12, "dy": -9, "color": "#4a6a9a"}, "encoding": {"x": {"datum": 1, "type": "quantitative"}, "y": {"value": "height"}, "text": {"value": "Control"}}},
   {"data": {"values": [{}]}, "mark": {"type": "text", "align": "left", "baseline": "middle", "dx": 5, "dy": -9, "color": "#4a6a9a"}, "encoding": {"x": {"datum": 1, "type": "quantitative"}, "y": {"value": "height"}, "text": {"value": "Roxadustat"}}}
  ]},
 {"width": 6, "height": 184.5, "data": {"values": [{}]}, "mark": {"type": "rule", "color": "#555", "strokeWidth": 1.5}, "encoding": {"y": {"datum": "Barratt et al. 2021", "type": "nominal", "bandPosition": 0, "axis": null, "scale": {"type": "band", "domain": ["title","gap","h1","h2","Barratt et al. 2021","Fishbane et al. 2021","Shutov et al. 2021","blank","Total (95% CI)","Total events","het","test"], "paddingInner": 0, "paddingOuter": 0.15, "align": 0, "round": false}}}}
]
}
